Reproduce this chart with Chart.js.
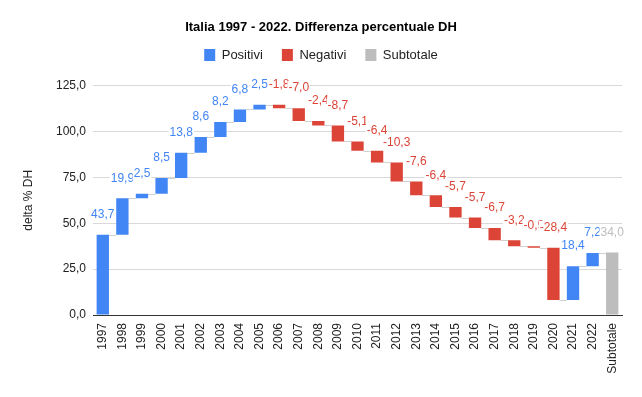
<!DOCTYPE html>
<html>
<head>
<meta charset="utf-8">
<script src="https://cdn.jsdelivr.net/npm/chart.js@4/dist/chart.umd.min.js"></script>
<style>
  html, body { margin: 0; padding: 0; background: #fff; }
  #wrap { width: 642px; height: 397px; }
</style>
</head>
<body>
<div id="wrap"><canvas id="chart" width="642" height="397"></canvas></div>
<script>
// Data
const categories = ["1997", "1998", "1999", "2000", "2001", "2002", "2003", "2004", "2005",
    "2006", "2007", "2008", "2009", "2010", "2011", "2012", "2013", "2014", "2015",
    "2016", "2017", "2018", "2019", "2020", "2021", "2022", "Subtotale"];
const deltas = [43.7, 19.9, 2.5, 8.5, 13.8, 8.6, 8.2, 6.8, 2.5,
    -1.8, -7.0, -2.4, -8.7, -5.1, -6.4, -10.3, -7.6, -6.4, -5.7,
    -5.7, -6.7, -3.2, -0.9, -28.4, 18.4, 7.2];
const subtotal = 34.0;
const yTicks = [0, 25, 50, 75, 100, 125];

const blue = "#4285f4";
const red = "#db4437";
const grey = "#bdbdbd";
const font = "'Liberation Sans', Arial, sans-serif";

// floating bars [start, end] for each series
const positives = [];
const negatives = [];
const subtotals = [];
const levels = [];   // running level after each column
let running = 0;
deltas.forEach((d) => {
    const start = running;
    running += d;
    positives.push(d >= 0 ? [start, running] : null);
    negatives.push(d < 0 ? [start, running] : null);
    subtotals.push(null);
    levels.push(running);
});
positives.push(null);
negatives.push(null);
subtotals.push([0, subtotal]);

const fmt = (v) => v.toFixed(1).replace(".", ",");

// thin grey connectors between consecutive columns
const connectors = {
    id: "connectors",
    beforeDatasetsDraw(chart) {
        const { ctx } = chart;
        const x = chart.scales.x;
        const y = chart.scales.y;
        const el = chart.getDatasetMeta(0).data[0];
        const half = el.width / 2;
        ctx.save();
        ctx.strokeStyle = "#d0d0d0";
        ctx.lineWidth = 1;
        for (let i = 0; i < levels.length; i++) {
            const py = Math.round(y.getPixelForValue(levels[i])) + 0.5;
            ctx.beginPath();
            ctx.moveTo(x.getPixelForValue(i) + half, py);
            ctx.lineTo(x.getPixelForValue(i + 1) - half, py);
            ctx.stroke();
        }
        ctx.restore();
    }
};

// value labels above every column, on a white background
const valueLabels = {
    id: "valueLabels",
    afterDatasetsDraw(chart) {
        const { ctx } = chart;
        ctx.save();
        ctx.font = "12px " + font;
        ctx.textAlign = "center";
        ctx.textBaseline = "middle";
        chart.data.datasets.forEach((ds, di) => {
            const meta = chart.getDatasetMeta(di);
            meta.data.forEach((bar, i) => {
                const v = ds.data[i];
                if (!v) return;
                const text = fmt(v[1] - v[0]);
                const top = Math.min(bar.y, bar.base);
                const ty = top - 20;
                const w = ctx.measureText(text).width;
                ctx.fillStyle = "#fff";
                ctx.fillRect(bar.x - w / 2 - 1, ty - 7, w + 2, 14);
                ctx.fillStyle = ds.backgroundColor;
                ctx.fillText(text, bar.x, ty);
            });
        });
        ctx.restore();
    }
};

// extra space under the legend
const legendGap = {
    id: "legendGap",
    beforeInit(chart) {
        const fit = chart.legend.fit;
        chart.legend.fit = function () {
            fit.bind(chart.legend)();
            this.height += 14;
        };
    }
};

const ctx = document.getElementById("chart").getContext("2d");
new Chart(ctx, {
    type: "bar",
    data: {
        labels: categories,
        datasets: [
            { label: "Positivi", data: positives, backgroundColor: blue },
            { label: "Negativi", data: negatives, backgroundColor: red },
            { label: "Subtotale", data: subtotals, backgroundColor: grey }
        ]
    },
    options: {
        responsive: false,
        animation: false,
        layout: { padding: 0 },
        datasets: {
            bar: { grouped: false, barPercentage: 0.63, categoryPercentage: 1, borderWidth: 0 }
        },
        plugins: {
            title: {
                display: true,
                text: "Italia 1997 - 2022. Differenza percentuale DH",
                color: "#000",
                font: { family: font, size: 13, weight: "bold" },
                padding: { top: 20, bottom: -6 }
            },
            legend: {
                position: "top",
                labels: {
                    boxWidth: 11,
                    boxHeight: 12,
                    padding: 19,
                    color: "#222",
                    font: { family: font, size: 13 }
                }
            },
            tooltip: { enabled: false }
        },
        scales: {
            x: {
                grid: { display: false, drawTicks: false },
                border: { color: "#333", width: 1 },
                ticks: {
                    minRotation: 90,
                    maxRotation: 90,
                    autoSkip: false,
                    padding: 8,
                    color: "#222",
                    font: { family: font, size: 12 }
                },
                afterFit: (s) => { s.height = 82; }
            },
            y: {
                min: 0,
                max: 125,
                afterBuildTicks: (s) => { s.ticks = yTicks.map((v) => ({ value: v })); },
                grid: { color: "#d9d9d9", lineWidth: 1, drawTicks: false },
                border: { display: false },
                ticks: {
                    padding: 7,
                    color: "#222",
                    font: { family: font, size: 12 },
                    callback: (v) => fmt(v)
                },
                title: {
                    display: true,
                    text: "delta % DH",
                    color: "#222",
                    font: { family: font, size: 12 },
                    padding: { top: 21, bottom: 0 }
                },
                afterFit: (s) => { s.width = 93; }
            },
            // empty strip on the right so title and legend stay centred on the page
            yRight: {
                position: "right",
                display: true,
                grid: { display: false, drawTicks: false },
                border: { display: false },
                ticks: { display: false },
                afterFit: (s) => { s.width = 20; }
            }
        }
    },
    plugins: [legendGap, connectors, valueLabels]
});
</script>
</body>
</html>
